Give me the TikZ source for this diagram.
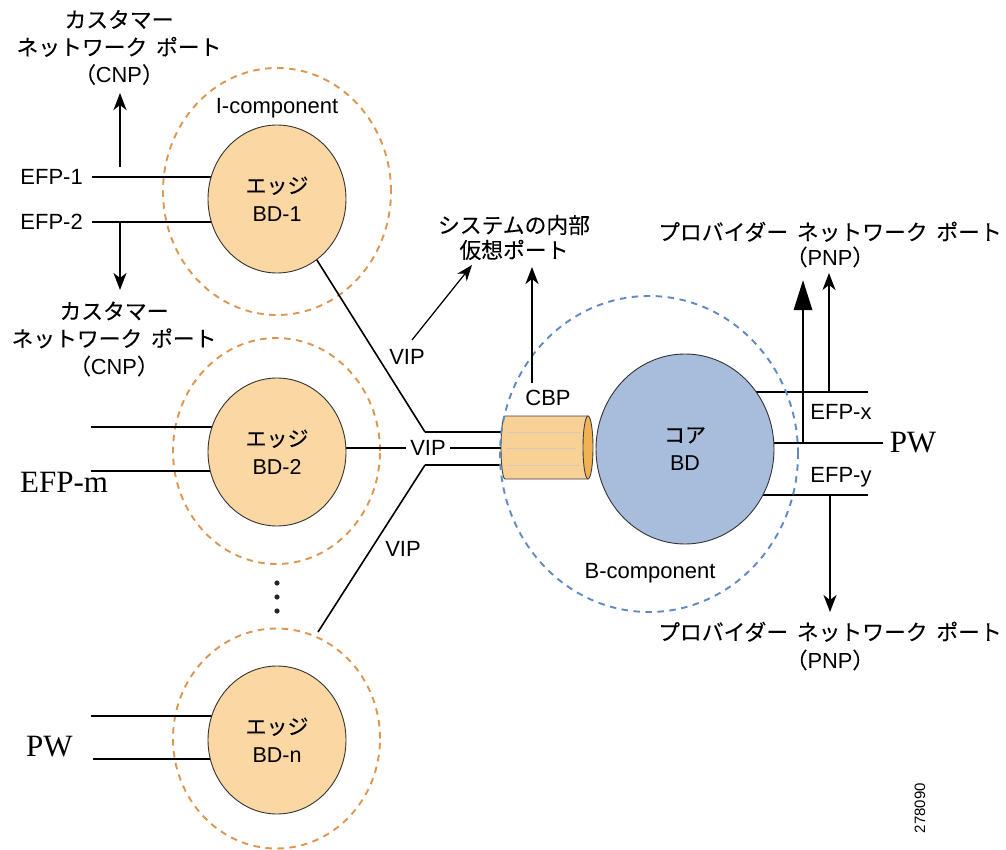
\documentclass[tikz,border=0pt]{standalone}
\usepackage{fontspec}
\setmainfont{Liberation Sans}
\newfontfamily\jp[FakeBold=0.12]{Noto Sans CJK JP}
\newfontfamily\tms{Liberation Serif}
\usetikzlibrary{shapes.geometric,arrows.meta}
\definecolor{bdfill}{RGB}{250,215,163}
\definecolor{odashc}{RGB}{220,150,80}
\definecolor{corefill}{RGB}{168,189,220}
\definecolor{bdashc}{RGB}{95,138,196}
\definecolor{cylfill}{RGB}{248,209,150}
\definecolor{capfill}{RGB}{240,178,85}
\definecolor{cylline}{RGB}{215,200,180}
\newcommand{\jsp}{\hspace{0.4em}}
\newcommand{\lt}[1]{{\fontspec{Liberation Sans}#1}}
\begin{document}
\begin{tikzpicture}[x=1pt,y=-1pt,
  lat/.style={font=\fontsize{22}{26}\selectfont, inner sep=0pt},
  jpl/.style={font=\jp\fontsize{21.8}{27.5}\selectfont, align=center, inner sep=0pt},
  tmsl/.style={font=\tms\fontsize{31}{34}\selectfont, inner sep=0pt},
  bd/.style={ellipse, draw=black!80, line width=0.9pt, fill=bdfill, minimum width=138pt, minimum height=148pt, inner sep=0pt, align=center, font=\fontsize{21.5}{28}\selectfont},
  wire/.style={line width=2.2pt},
  thinwire/.style={line width=1.6pt},
  odash/.style={draw=odashc, line width=1.9pt, dash pattern=on 6.5pt off 5.5pt},
  bdash/.style={draw=bdashc, line width=1.9pt, dash pattern=on 6.5pt off 5.5pt},
  cnparrow/.style={line width=1.9pt, -{Stealth[length=17pt,width=13pt,inset=5pt]}},
  thinarrow/.style={line width=1.2pt, -{Stealth[length=16pt,width=12pt,inset=5pt]}},
  bigarrow/.style={line width=2.9pt, -{Triangle[length=30pt,width=18pt]}},
]
\useasboundingbox (0,0) rectangle (1006,850);

% dashed component outlines (orange)
\draw[odash] (277,191.5) ellipse [x radius=114pt, y radius=123.5pt];
\draw[odash] (276.5,451) ellipse [x radius=103.5pt, y radius=113pt];
\draw[odash] (276.5,738.5) ellipse [x radius=103.5pt, y radius=110pt];

% coordinates
\coordinate (e1) at (92,177);
\coordinate (e2) at (92,222);
\coordinate (m1) at (91,427);
\coordinate (m2) at (91,471);
\coordinate (n1) at (91,716);
\coordinate (n2) at (93,759);

% left wires
\draw[wire] (e1) -- (250,177);
\draw[wire] (e2) -- (250,222);
\draw[wire] (m1) -- (250,427);
\draw[wire] (m2) -- (250,471);
\draw[wire] (n1) -- (250,716);
\draw[wire] (n2) -- (250,759);

% CNP arrows
\coordinate (up0) at (120,167);
\coordinate (up1) at (120,93);
\coordinate (dn0) at (120,222);
\coordinate (dn1) at (120,290);
\draw[cnparrow] (up0) -- (up1);
\draw[cnparrow] (dn0) -- (dn1);

% VIP connections
\coordinate (c1) at (425,432);
\coordinate (c2) at (505,432);
\coordinate (c3) at (425,465);
\coordinate (c4) at (505,465);
\draw[thinwire] (315,257) -- (c1);
\draw[wire] (c1) -- (c2);
\draw[wire] (c3) -- (c4);
\draw[thinwire] (c3) -- (318,632);
\node[lat] (vip2) at (428,448) {VIP};
\draw[wire] (330,448) -- (406,448);
\draw[wire] (450,448) -- (505,448);

% right wires
\coordinate (rx) at (868,392);
\coordinate (rp) at (883,443);
\coordinate (ry) at (868,495);
\draw[wire] (740,392) -- (rx);
\draw[wire] (740,443) -- (rp);
\draw[wire] (740,495) -- (ry);

% cylinder (CBP)
\fill[cylfill] (505,416) -- (588,416) -- (588,479) -- (505,479)
  arc[start angle=270, end angle=90, x radius=4pt, y radius=31.5pt] -- cycle;
\draw[cylline, line width=0.9pt] (507,432) -- (580,432);
\draw[cylline, line width=0.9pt] (506,448) -- (576,448);
\draw[cylline, line width=0.9pt] (507,465) -- (580,465);
\draw[black!75, line width=0.9pt] (588,416) -- (505,416)
  arc[start angle=90, end angle=270, x radius=4pt, y radius=31.5pt] -- (588,479);
\draw[black!75, line width=0.9pt, fill=capfill] (588,447.5) ellipse [x radius=5pt, y radius=31.5pt];

% B-component outline
\draw[bdash] (649,454) ellipse [x radius=149pt, y radius=158pt];

% BD nodes
\node[bd] (bd1) at (277,199) {{\jp\fontsize{21}{28}\selectfont エッジ}\\BD-1};
\node[bd] (bd2) at (277,452) {{\jp\fontsize{21}{28}\selectfont エッジ}\\BD-2};
\node[bd] (bdn) at (277,740) {{\jp\fontsize{21}{28}\selectfont エッジ}\\BD-n};
\node[bd, fill=corefill, minimum width=178pt, minimum height=190pt] (core) at (685,449) {{\jp\fontsize{21}{28}\selectfont コア}\\BD};

% dots
\fill[black!85] (277,583) circle[radius=2.6pt];
\fill[black!85] (277,597) circle[radius=2.6pt];
\fill[black!85] (277,611) circle[radius=2.6pt];

% upward arrows (middle and right)
\coordinate (va0) at (412,340);
\coordinate (va1) at (472,265);
\draw[thinarrow] (va0) -- (va1);
\coordinate (cb0) at (532,383);
\coordinate (cb1) at (532,267);
\draw[cnparrow] (cb0) -- (cb1);
\coordinate (ba0) at (803,443);
\coordinate (ba1) at (803,280);
\draw[bigarrow] (ba0) -- (ba1);
\coordinate (sa0) at (829,392);
\coordinate (sa1) at (829,273);
\draw[cnparrow] (sa0) -- (sa1);
\coordinate (da0) at (830,495);
\coordinate (da1) at (830,612);
\draw[cnparrow] (da0) -- (da1);

% labels
\node[jpl] (cnpA) at (119,47.5) {カスタマー\\ネットワーク\jsp ポート\\（\lt{CNP}）};
\node[jpl] (cnpB) at (114,339) {カスタマー\\ネットワーク\jsp ポート\\（\lt{CNP}）};
\node[lat, anchor=east] (l1) at (83,177) {EFP-1};
\node[lat, anchor=east] (l2) at (83,222) {EFP-2};
\node[tmsl, anchor=west] (lm) at (20,482) {EFP-m};
\node[tmsl, anchor=west] (lpw) at (26,747) {PW};
\node[lat] (icomp) at (277,108) {I-component};
\node[lat] (vip1) at (407,357) {VIP};
\node[lat] (vip3) at (403,549) {VIP};
\node[lat] (cbp) at (548,398) {CBP};
\node[jpl, font=\jp\fontsize{21.8}{25}\selectfont] (sys) at (514,237.5) {システムの内部\\仮想ポート};
\node[jpl, font=\jp\fontsize{21.8}{25}\selectfont] (pnpA) at (830,244.5) {プロバイダー\jsp ネットワーク\jsp ポート\\（\lt{PNP}）};
\node[jpl, font=\jp\fontsize{21.8}{28}\selectfont] (pnpB) at (830,646) {プロバイダー\jsp ネットワーク\jsp ポート\\（\lt{PNP}）};
\node[lat] (efx) at (841,412) {EFP-x};
\node[lat] (efy) at (841,477) {EFP-y};
\node[tmsl] (rpw) at (913,443) {PW};
\node[lat] (bcomp) at (650,573) {B-component};
\node[rotate=90, font=\fontsize{15}{15}\selectfont] (num) at (920,808) {278090};
\end{tikzpicture}
\end{document}
